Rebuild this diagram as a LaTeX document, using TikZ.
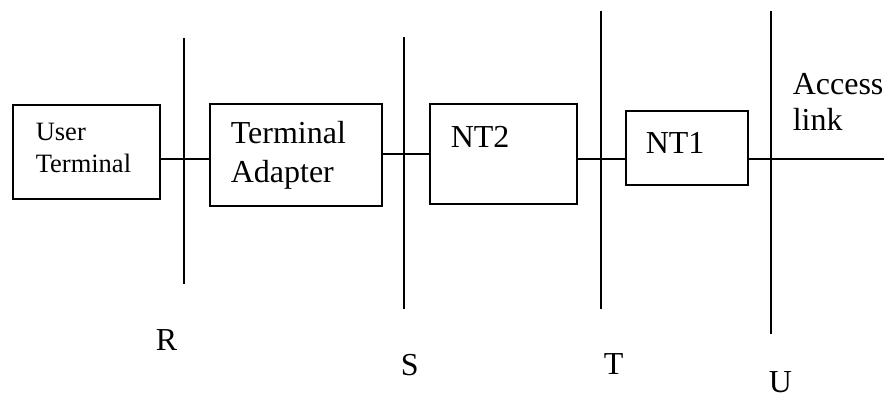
\documentclass[tikz,border=0pt]{standalone}
\usepackage{fontspec}
\setmainfont{Liberation Serif}
\begin{document}
\begin{tikzpicture}[x=1pt, y=-1pt, line width=1.6pt,
  unit/.style={draw, rectangle, inner sep=0pt, anchor=north west},
  big/.style={font=\fontsize{32}{37}\selectfont, inner sep=0pt, anchor=base west},
  small/.style={font=\fontsize{26.5}{32}\selectfont, inner sep=0pt, anchor=base west}]
\useasboundingbox (0,0) rectangle (886,400);

% functional units
\node[unit, minimum width=147pt, minimum height=94pt]  (ut)  at (12,104)  {};
\node[unit, minimum width=172pt, minimum height=102pt] (ta)  at (209,103) {};
\node[unit, minimum width=147pt, minimum height=100pt] (nt2) at (429,103) {};
\node[unit, minimum width=122pt, minimum height=74pt]  (nt1) at (625,110) {};

% unit texts
\node[small] (ut1)  at (35,140)  {User};
\node[small] (ut2)  at (35,172)  {Terminal};
\node[big]   (ta1)  at (230,143) {Terminal};
\node[big]   (ta2)  at (230,182) {Adapter};
\node[big]   (nt2t) at (450,147) {NT2};
\node[big]   (nt1t) at (645,153) {NT1};
\node[big]   (acc1) at (792,94)  {Access};
\node[big]   (acc2) at (792,130) {link};

% reference points
\coordinate (rtop) at (184,38);  \coordinate (rbot) at (184,284);
\coordinate (stop) at (404,37);  \coordinate (sbot) at (404,309);
\coordinate (ttop) at (601,11);  \coordinate (tbot) at (601,309);
\coordinate (utop) at (771,11);  \coordinate (ubot) at (771,334);
\draw (rtop) -- (rbot);
\draw (stop) -- (sbot);
\draw (ttop) -- (tbot);
\draw (utop) -- (ubot);

\node[big] (rl) at (155,350) {R};
\node[big] (sl) at (400,375) {S};
\node[big] (tl) at (603,374) {T};
\node[big] (ul) at (768,392) {U};

% links between units
\coordinate (h1) at (0,159);
\coordinate (h2) at (0,154);
\coordinate (lineend) at (884,159);
\draw (ut.east |- h1) -- (ta.west |- h1);
\draw (ta.east |- h2) -- (nt2.west |- h2);
\draw (nt2.east |- h1) -- (nt1.west |- h1);
\draw (nt1.east |- h1) -- (lineend);
\end{tikzpicture}
\end{document}
